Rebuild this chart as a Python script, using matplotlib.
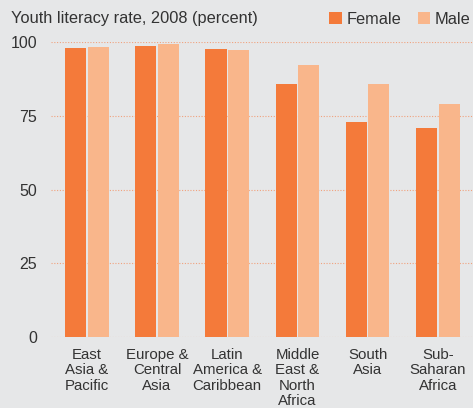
import numpy as np
import matplotlib
matplotlib.use("Agg")
import matplotlib.pyplot as plt

regions = ["East\nAsia &\nPacific", "Europe &\nCentral\nAsia", "Latin\nAmerica &\nCaribbean",
           "Middle\nEast &\nNorth\nAfrica", "South\nAsia", "Sub-\nSaharan\nAfrica"]
female = [98.0, 98.6, 97.6, 85.8, 72.9, 70.8]
male = [98.3, 99.3, 97.3, 92.2, 85.8, 79.0]
yticks = [0, 25, 50, 75, 100]

bg = "#e6e7e8"
c_female = "#f47a3a"
c_male = "#f9b68b"
txt = "#333333"

plt.rcParams['font.family'] = ['Liberation Sans', 'DejaVu Sans']

fig = plt.figure(figsize=(4.73, 4.08), dpi=100, facecolor=bg)
ax = fig.add_axes([51/473, 71/408, 1 - 51/473, 295/408], facecolor=bg)

x = np.arange(len(regions))
ax.bar(x - 0.16, female, width=0.3, color=c_female, zorder=3, label="Female")
ax.bar(x + 0.16, male, width=0.3, color=c_male, zorder=3, label="Male")

ax.set_xlim(-0.51, 5.5)
ax.set_ylim(0, 100)
ax.set_yticks(yticks)
ax.set_yticklabels([str(v) for v in yticks], fontsize=11.5, color=txt)
ax.yaxis.grid(True, linestyle=(0, (1, 1.5)), color="#f0a27e", linewidth=0.8)
ax.set_axisbelow(True)
ax.tick_params(axis='y', length=0, pad=10)
ax.set_xticks(x)
ax.set_xticklabels(regions, fontsize=10.8, color=txt, linespacing=1.12)
ax.tick_params(axis='x', length=0, pad=8)
for s in ax.spines.values():
    s.set_visible(False)

fig.text(11/473, 1 - 19/408, "Youth literacy rate, 2008 (percent)", fontsize=11.8,
         color=txt, va='center', ha='left')
ax.legend(loc='upper right', bbox_to_anchor=(1.01, 1 + 37/295), ncol=2, frameon=False,
          fontsize=11.8, handlelength=0.75, handleheight=0.75, columnspacing=1.0,
          handletextpad=0.3, labelcolor=txt, borderaxespad=0)

fig.savefig("out.png", dpi=100, facecolor=bg)
